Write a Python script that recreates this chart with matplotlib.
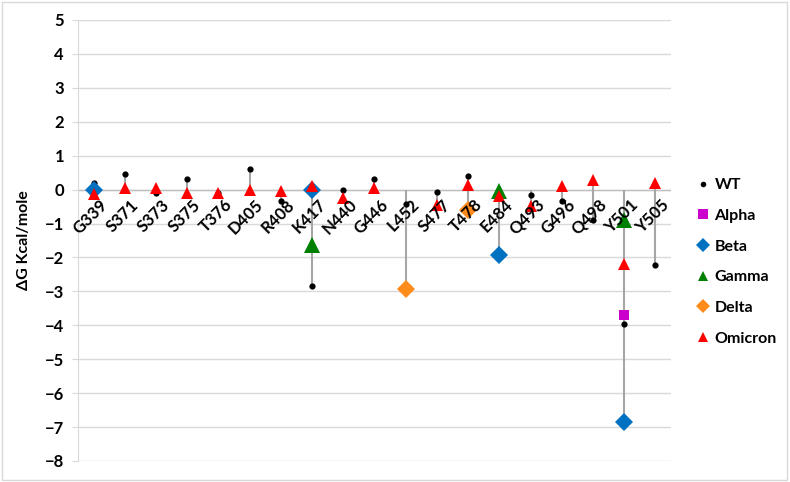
import numpy as np
import matplotlib
matplotlib.use("Agg")
import matplotlib.pyplot as plt
from matplotlib.lines import Line2D
from matplotlib.patches import Rectangle

plt.rcParams['font.family'] = ['Lato', 'DejaVu Sans']
plt.rcParams['font.weight'] = 'bold'

# residues along the x axis
residues = ['G339', 'S371', 'S373', 'S375', 'T376', 'D405', 'R408', 'K417', 'N440', 'G446',
            'L452', 'S477', 'T478', 'E484', 'Q493', 'G496', 'Q498', 'Y501', 'Y505']

nan = np.nan
# delta G (kcal/mole) per variant, nan = no value
wt = [0.2, 0.46, -0.1, 0.32, -0.1, 0.61, -0.35, -2.83, -0.02, 0.32,
      -0.42, -0.08, 0.41, -0.1, -0.15, -0.35, -0.91, -3.96, -2.21]
alpha = [nan] * 17 + [-3.69, nan]
beta = [0.0, nan, nan, nan, nan, nan, nan, 0.0, nan, nan,
        nan, nan, nan, -1.92, nan, nan, nan, -6.86, nan]
gamma = [nan, nan, nan, nan, nan, nan, nan, -1.62, nan, nan,
         nan, nan, nan, -0.03, nan, nan, nan, -0.91, nan]
delta = [nan, nan, nan, nan, nan, nan, nan, nan, nan, nan,
         -2.92, nan, -0.61, nan, nan, nan, nan, nan, nan]
omicron = [-0.12, 0.05, 0.04, -0.1, -0.1, 0.0, -0.03, 0.1, -0.25, 0.05,
           nan, -0.46, 0.14, -0.18, -0.47, 0.1, 0.29, -2.2, 0.2]

series = [
    ('WT', wt, 'o', '#000000', 4.5),
    ('Alpha', alpha, 's', '#CC00CC', 6.5),
    ('Beta', beta, 'D', '#0070C0', 9),
    ('Gamma', gamma, '^', '#008000', 12),
    ('Delta', delta, 'D', '#FF8C1A', 9),
    ('Omicron', omicron, '^', '#FF0000', 8),
]

fig = plt.figure(figsize=(7.9, 4.82), dpi=100)
ax = fig.add_axes([0.0987, 0.0436, 0.7506, 0.915])

x = np.arange(len(residues))

# high-low lines (blank cells count as zero, like Excel)
allv = np.array([s[1] for s in series], dtype=float)
filled = np.nan_to_num(allv, nan=0.0)
ax.vlines(x, filled.min(axis=0), filled.max(axis=0), color='#A6A6A6', lw=1.5, zorder=2)

for name, vals, mk, col, ms in series:
    ax.plot(x, vals, linestyle='none', marker=mk, color=col, markersize=ms,
            markeredgewidth=0, zorder=3)

ax.set_xlim(-0.5, len(residues) - 0.5)
ax.set_ylim(-8, 5)
ax.set_yticks(np.arange(-8, 6, 1))
ax.grid(axis='y', color='#D9D9D9', lw=1)
ax.set_axisbelow(True)
ax.axhline(0, color='#BFBFBF', lw=1, zorder=1)
ax.set_xticks([])
for side in ['top', 'right', 'bottom']:
    ax.spines[side].set_visible(False)
ax.spines['left'].set_color('#D9D9D9')
ax.tick_params(axis='y', length=4, color='#D9D9D9', labelsize=12, pad=6)
for lab in ax.get_yticklabels():
    lab.set_fontweight('bold')

for i, r in enumerate(residues):
    ax.annotate(r, (i, 0), xytext=(4, -5), textcoords='offset points', rotation=45,
                ha='right', va='top', rotation_mode='anchor', fontsize=12,
                fontweight='bold')

ax.set_ylabel('ΔG Kcal/mole', fontsize=11.5, fontweight='bold', labelpad=10)

handles = [Line2D([], [], linestyle='none', marker=mk, color=col,
                  markersize=min(ms, 7) if name != 'WT' else 4, markeredgewidth=0)
           for name, vals, mk, col, ms in series]
fig.legend(handles, [s[0] for s in series], loc='upper left', bbox_to_anchor=(0.866, 0.66),
           frameon=False, labelspacing=1.03, handlelength=0.6,
           handletextpad=0.4, prop={'weight': 'bold', 'size': 11.5})

fig.patches.append(Rectangle((0.002, 0.004), 0.994, 0.992, transform=fig.transFigure,
                             fill=False, edgecolor='#D9D9D9', lw=1))

fig.savefig('out.png', dpi=100)
